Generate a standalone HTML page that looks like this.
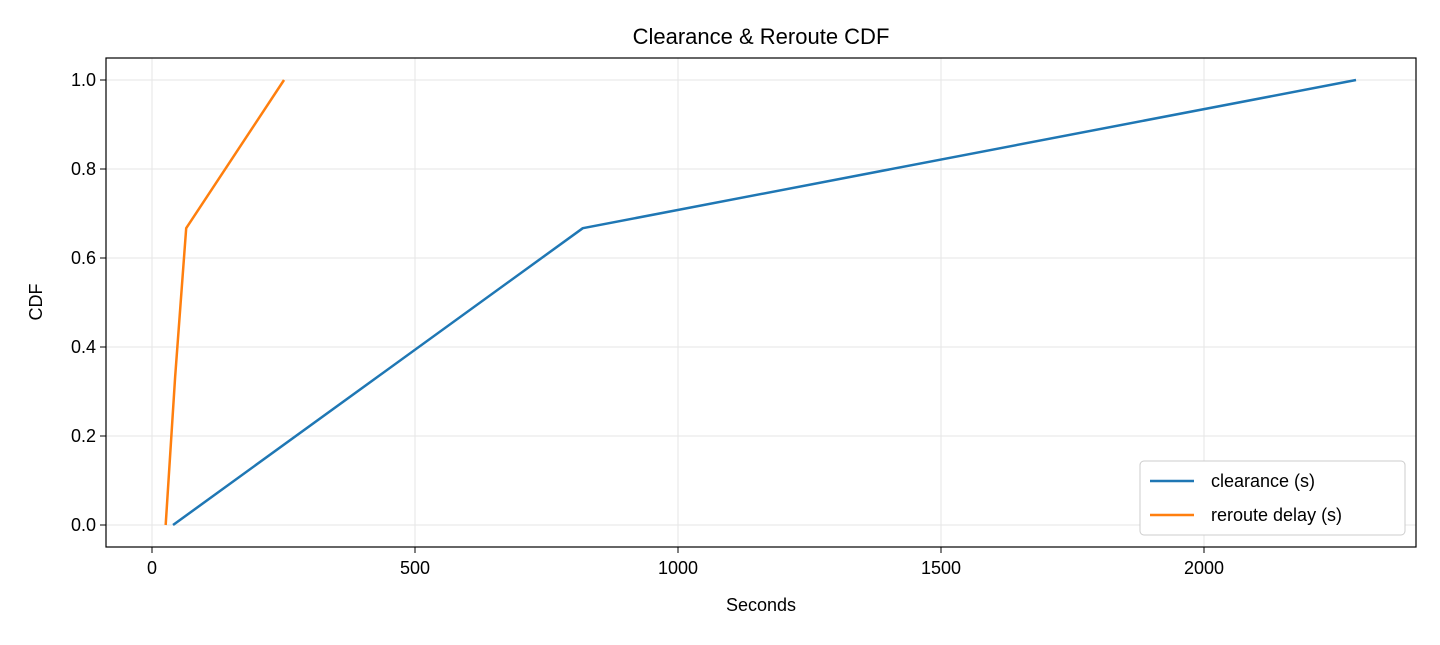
<!DOCTYPE html>
<html><head><meta charset="utf-8"><style>
body{margin:0;background:#fff;font-family:"Liberation Sans","DejaVu Sans",sans-serif}
</style></head><body>
<svg width="1440" height="640" xmlns="http://www.w3.org/2000/svg">
<g id="grid"></g>
<g id="axes"></g>
<g id="series"></g>
<text x="761" y="44" text-anchor="middle" font-size="22" fill="#000">Clearance &amp; Reroute CDF</text>
<text x="761" y="611" text-anchor="middle" font-size="18" fill="#000">Seconds</text>
<text transform="translate(42,302) rotate(-90)" text-anchor="middle" font-size="18" fill="#000">CDF</text>
<g>
<rect x="1140" y="461" width="265" height="74" rx="4" fill="#fff" stroke="#ccc"/>
<line x1="1150" y1="481" x2="1194" y2="481" stroke="#1f77b4" stroke-width="2.5"/>
<text x="1211" y="487" font-size="18">clearance (s)</text>
<line x1="1150" y1="515" x2="1194" y2="515" stroke="#ff7f0e" stroke-width="2.5"/>
<text x="1211" y="521" font-size="18">reroute delay (s)</text>
</g>
</svg>
<script>
const xTicks=[0,500,1000,1500,2000];
const yTicks=[0.0,0.2,0.4,0.6,0.8,1.0];
const clearanceX=[40,819,2289];
const clearanceY=[0,0.667,1.0];
const rerouteX=[26,44,65,251];
const rerouteY=[0,0.333,0.667,1.0];
const L=106,R=1416,T=58,B=547;
const sx=v=>152+v*0.526;
const sy=v=>525-v*445;
const NS="http://www.w3.org/2000/svg";
function mk(tag,attrs,parent,txt){const e=document.createElementNS(NS,tag);for(const k in attrs)e.setAttribute(k,attrs[k]);if(txt!==undefined)e.textContent=txt;document.getElementById(parent).appendChild(e);return e;}
xTicks.forEach(t=>{
 let g=mk('line',{x1:sx(t),x2:sx(t),y1:T,y2:B,stroke:'#e5e5e5','stroke-width':1},'grid');
 
 
 let k=mk('line',{x1:sx(t),x2:sx(t),y1:B,y2:B+6,stroke:'#000'},'axes');
 
 
 let l=mk('text',{x:sx(t),y:B+27,'text-anchor':'middle','font-size':18},'axes',String(t));
 
 
});
yTicks.forEach(t=>{
 let g=mk('line',{x1:L,x2:R,y1:sy(t),y2:sy(t),stroke:'#e5e5e5','stroke-width':1},'grid');
 
 
 let k=mk('line',{x1:L-6,x2:L,y1:sy(t),y2:sy(t),stroke:'#000'},'axes');
 
 
 let l=mk('text',{x:L-10,y:sy(t)+6,'text-anchor':'end','font-size':18},'axes',t.toFixed(1));
 
 
});
let fr=mk('rect',{x:L,y:T,width:R-L,height:B-T,fill:'none',stroke:'#000','stroke-width':1.2},'axes');


function line(xs,ys,color,name){
 const pts=xs.map((x,i)=>sx(x)+','+sy(ys[i])).join(' ');
 const p=mk('polyline',{points:pts,fill:'none',stroke:color,'stroke-width':2.5,'stroke-linejoin':'round'},'series');
 
 
}
line(clearanceX,clearanceY,'#1f77b4','clearance-line');
line(rerouteX,rerouteY,'#ff7f0e','reroute-delay-line');
</script>
</body></html>
